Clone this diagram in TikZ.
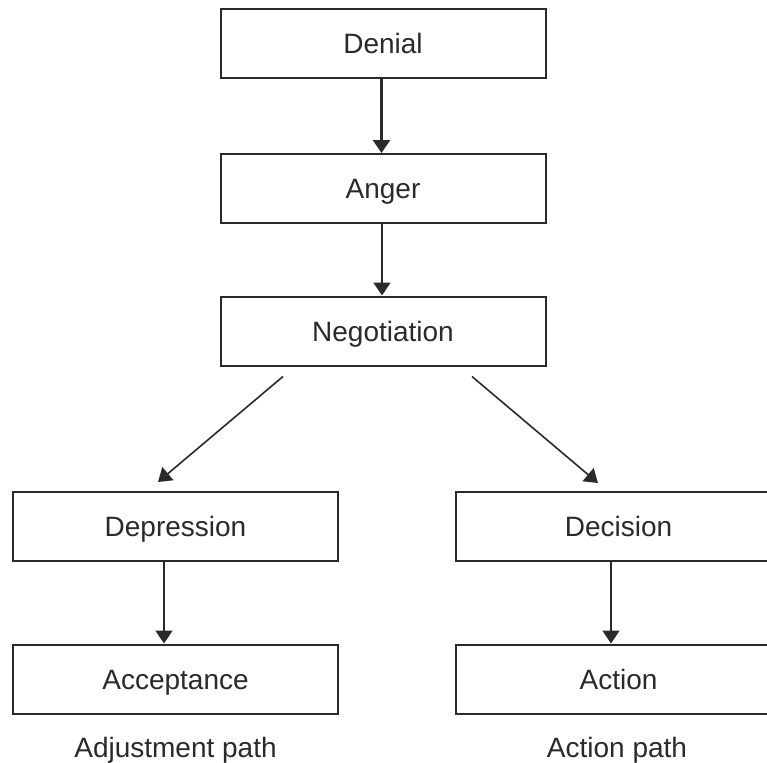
\documentclass[tikz,border=0pt]{standalone}
\usepackage{fontspec}
\setmainfont{Liberation Sans}
\usetikzlibrary{arrows.meta}
\definecolor{ink}{HTML}{2A2A2A}
\begin{document}
\begin{tikzpicture}[x=0.5pt,y=-0.5pt,
  stage/.style={draw=ink,line width=1pt,minimum width=162.5pt,minimum height=34.5pt,
    inner sep=0pt,text height=10pt,text depth=0pt,font=\fontsize{14}{16}\selectfont,text=ink},
  caption/.style={font=\fontsize{14}{16}\selectfont,text=ink,inner sep=0pt,
    text height=10pt,text depth=0pt},
  arr/.style={draw=ink,line width=0.8pt,-{Triangle[length=6.5pt,width=8.5pt]}},
  boldarr/.style={arr,line width=1.4pt}]
\clip (0,0) rectangle (767,762);
\fill[white] (0,0) rectangle (767,762);

% central chain
\node[stage] (den) at (383,43.5) {Denial};
\node[stage] (ang) at (383,188.5) {Anger};
\node[stage] (neg) at (383,331) {Negotiation};

% two branches
\node[stage] (dep) at (175.5,526.5) {Depression};
\node[stage] (acc) at (175.5,679) {Acceptance};
\node[stage] (dec) at (618.5,526.5) {Decision};
\node[stage] (act) at (618.5,679) {Action};

\node[caption] (adj) at (175.5,747) {Adjustment path};
\node[caption] (actp) at (617,747) {Action path};

% connectors
\draw[boldarr] ([shift={(-1.5,0)}]den.south) -- ([shift={(-1.5,0)}]ang.north);
\draw[arr] ([shift={(-1,0)}]ang.south) -- ([shift={(-1,0)}]neg.north);
\draw[arr] ([shift={(-100,10)}]neg.south) -- ([shift={(-17.5,-9)}]dep.north);
\draw[arr] ([shift={(89,10)}]neg.south) -- ([shift={(-20.5,-8)}]dec.north);
\draw[arr] ([shift={(-11.5,0)}]dep.south) -- ([shift={(-11.5,0)}]acc.north);
\draw[arr] ([shift={(-7.5,0)}]dec.south) -- ([shift={(-7.5,0)}]act.north);
\end{tikzpicture}
\end{document}
